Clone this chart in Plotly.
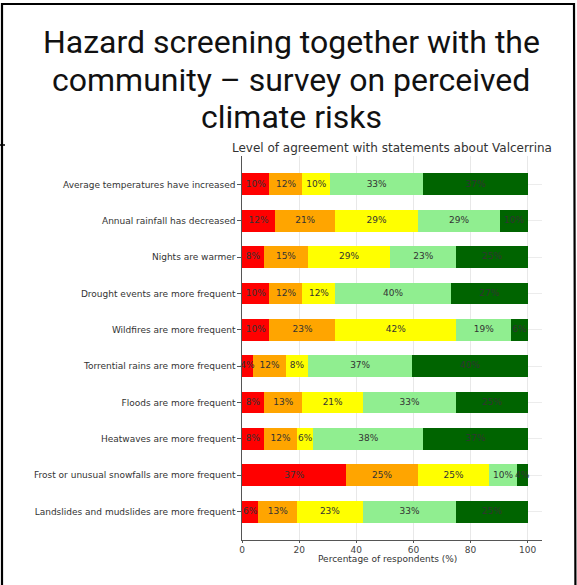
import plotly.graph_objects as go

categories = [
    "Average temperatures have increased",
    "Annual rainfall has decreased",
    "Nights are warmer",
    "Drought events are more frequent",
    "Wildfires are more frequent",
    "Torrential rains are more frequent",
    "Floods are more frequent",
    "Heatwaves are more frequent",
    "Frost or unusual snowfalls are more frequent",
    "Landslides and mudslides are more frequent",
]
level_names = ["Strongly disagree", "Disagree", "Neutral", "Agree", "Strongly agree"]
level_colors = ["#ff0000", "#ffa500", "#ffff00", "#90ee90", "#006400"]

strongly_disagree = [9.62, 11.54, 7.69, 9.62, 9.62, 3.85, 7.69, 7.69, 36.54, 5.77]
disagree = [11.54, 21.15, 15.38, 11.54, 23.08, 11.54, 13.46, 11.54, 25.00, 13.46]
neutral = [9.62, 28.85, 28.85, 11.54, 42.31, 7.69, 21.15, 5.77, 25.00, 23.08]
agree = [32.69, 28.85, 23.08, 40.38, 19.23, 36.54, 32.69, 38.46, 9.62, 32.69]
strongly_agree = [36.54, 9.62, 25.00, 26.92, 5.77, 40.38, 25.00, 36.54, 3.85, 25.00]
series = [strongly_disagree, disagree, neutral, agree, strongly_agree]

x_ticks = [0, 20, 40, 60, 80, 100]

title_lines = [
    "Hazard screening together with the",
    "community – survey on perceived",
    "climate risks",
]
subtitle_text = "Level of agreement with statements about Valcerrina"
xaxis_text = "Percentage of respondents (%)"

W, H = 577, 585
L, R, T, B = 242, 35, 156, 45
plot_w = W - L - R
plot_h = H - T - B


def px_x(px):
    return (px - L) / plot_w


def px_y(py):
    return (H - B - py) / plot_h


fig = go.Figure()
for name, color, vals in zip(level_names, level_colors, series):
    fig.add_trace(go.Bar(
        y=categories, x=vals, name=name, orientation="h",
        marker=dict(color=color, line=dict(width=0)), width=0.6,
        showlegend=False, hoverinfo="skip",
    ))

# segment labels
lx, ly, lt = [], [], []
cum = [0.0] * len(categories)
for vals in series:
    for i, v in enumerate(vals):
        lx.append(cum[i] + v / 2)
        ly.append(categories[i])
        lt.append(f"{v:.0f}%")
        cum[i] += v
fig.add_trace(go.Scatter(
    x=lx, y=ly, text=lt, mode="text",
    textfont=dict(family="DejaVu Sans", size=9, color="#333333"),
    showlegend=False, hoverinfo="skip", cliponaxis=False,
))

title_annots = [
    dict(text=line, xref="paper", yref="paper", x=px_x(291), y=px_y(yc),
         xanchor="center", yanchor="middle", showarrow=False,
         font=dict(family="Roboto", size=32, color="#111111"))
    for line, yc in zip(title_lines, [42, 79.5, 117])
]

axis_col = "#555555"
fig.update_layout(
    width=W, height=H,
    margin=dict(l=L, r=R, t=T, b=B),
    barmode="stack",
    plot_bgcolor="white", paper_bgcolor="white",
    font=dict(family="DejaVu Sans", color="#333333"),
    xaxis=dict(
        range=[0, 105], tickvals=x_ticks, ticktext=[str(t) for t in x_ticks],
        showgrid=True, gridcolor="#e8e8e8", gridwidth=1, zeroline=False,
        showline=True, linecolor=axis_col, linewidth=1.3,
        ticks="outside", ticklen=1.5, tickcolor=axis_col, tickwidth=1,
        tickfont=dict(size=9, color="#444444"),
    ),
    yaxis=dict(
        range=[len(categories) - 1 + 0.78, -0.78], type="category",
        categoryorder="array", categoryarray=categories,
        showgrid=True, gridcolor="#ececec", gridwidth=1, zeroline=False,
        showline=True, linecolor=axis_col, linewidth=1.3,
        ticks="outside", ticklen=3.5, tickcolor=axis_col, tickwidth=1,
        tickfont=dict(size=9, color="#333333"),
    ),
    annotations=title_annots + [
        dict(text=subtitle_text, xref="paper", yref="paper", x=0.5, y=px_y(148),
             xanchor="center", yanchor="middle", showarrow=False,
             font=dict(size=12, color="#333333")),
        dict(text=xaxis_text, xref="paper", yref="paper", x=px_x(387), y=px_y(559),
             xanchor="center", yanchor="middle", showarrow=False,
             font=dict(size=9, color="#333333")),
    ],
    shapes=[
        dict(type="path", xref="paper", yref="paper",
             path=f"M {px_x(2)} {px_y(620)} L {px_x(2)} {px_y(4)} L {px_x(574)} {px_y(4)} L {px_x(575.5)} {px_y(620)}",
             line=dict(color="black", width=2.2)),
        dict(type="line", xref="paper", yref="paper", x0=px_x(0), x1=px_x(5),
             y0=px_y(145), y1=px_y(145), line=dict(color="black", width=1.5)),
    ],
)

fig.write_html("out.html")
